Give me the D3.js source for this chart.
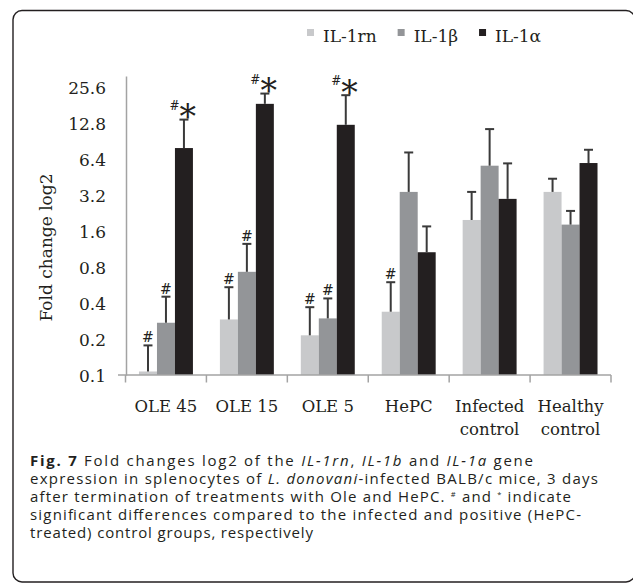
<!DOCTYPE html>
<html>
<head>
<meta charset="utf-8">
<script src="https://cdn.jsdelivr.net/npm/d3@7"></script>
<style>
  html, body { margin: 0; padding: 0; background: #ffffff; }
  svg { display: block; }
</style>
</head>
<body>
<svg id="chart" width="633" height="584"></svg>
<script>
// ---------- data ----------
const categories = ["OLE 45", "OLE 15", "OLE 5", "HePC", "Infected\ncontrol", "Healthy\ncontrol"];
const seriesNames = ["IL-1rn", "IL-1β", "IL-1α"];
const il1rn = [0.107, 0.292, 0.215, 0.339, 1.99, 3.42];
const il1b  = [0.274, 0.732, 0.298, 3.42, 5.67, 1.82];
const il1a  = [7.97, 18.7, 12.48, 1.068, 2.99, 5.97];
const il1rnErr = [0.07, 0.252, 0.155, 0.26, 1.43, 0.99];
const il1bErr  = [0.179, 0.523, 0.14, 3.9, 5.82, 0.55];
const il1aErr  = [5.83, 4.1, 9.62, 0.69, 2.94, 1.74];
const il1rnSig = ["#", "#", "#", "#", "", ""];
const il1bSig  = ["#", "#", "#", "", "", ""];
const il1aSig  = ["#*", "#*", "#*", "", "", ""];
const yTicks = [0.1, 0.2, 0.4, 0.8, 1.6, 3.2, 6.4, 12.8, 25.6];
const seriesColors = ["#c8c9cb", "#939598", "#231f20"];

const seriesValues = [il1rn, il1b, il1a];
const seriesErr = [il1rnErr, il1bErr, il1aErr];
const seriesSig = [il1rnSig, il1bSig, il1aSig];

// ---------- layout ----------
const svg = d3.select("#chart");
const serif = "'DejaVu Serif', serif";
const sans = "'Open Sans', sans-serif";
const ink = "#231f20";
const axisGray = "#a3a3a3";

// frame
svg.append("rect")
  .attr("x", 13).attr("y", 10.5)
  .attr("width", 622).attr("height", 571.5)
  .attr("rx", 9).attr("ry", 9)
  .attr("fill", "none").attr("stroke", ink).attr("stroke-width", 1.4);

const x = d3.scaleBand().domain(categories).range([125.5, 611]).padding(0);
const x1 = d3.scaleBand().domain(seriesNames).range([0, x.bandwidth()])
  .paddingInner(0).paddingOuter(0.75);
const y = d3.scaleLog().base(2).domain([0.1, 32]).range([375, 76]);

// y axis
const yAxis = svg.append("g")
  .attr("transform", "translate(126,0)")
  .call(d3.axisLeft(y).tickValues(yTicks).tickFormat(d => String(d)).tickSize(0).tickPadding(20));
yAxis.select(".domain").attr("stroke", axisGray).attr("stroke-width", 1.5);
yAxis.selectAll(".tick text")
  .attr("font-family", serif).attr("font-size", 17).attr("fill", ink)
  .attr("dy", "0.36em");

// axis title
svg.append("text")
  .attr("transform", "translate(52,247.5) rotate(-90)")
  .attr("text-anchor", "middle")
  .attr("font-family", serif).attr("font-size", 17).attr("fill", ink)
  .text("Fold change log2");

// bars
const groups = svg.append("g").selectAll("g")
  .data(categories)
  .join("g")
  .attr("transform", d => `translate(${x(d)},0)`);

seriesNames.forEach((s, si) => {
  groups.append("rect")
    .attr("x", x1(s))
    .attr("width", x1.bandwidth())
    .attr("y", (d, i) => y(seriesValues[si][i]))
    .attr("height", (d, i) => y(0.1) - y(seriesValues[si][i]))
    .attr("fill", seriesColors[si]);
});

// error bars
const errColor = "#3a3a3a";
seriesNames.forEach((s, si) => {
  const cx = x1(s) + x1.bandwidth() / 2;
  groups.append("line")
    .attr("x1", cx).attr("x2", cx)
    .attr("y1", (d, i) => y(seriesValues[si][i]))
    .attr("y2", (d, i) => y(seriesValues[si][i] + seriesErr[si][i]))
    .attr("stroke", errColor).attr("stroke-width", 2);
  groups.append("line")
    .attr("x1", cx - 4.5).attr("x2", cx + 4.5)
    .attr("y1", (d, i) => y(seriesValues[si][i] + seriesErr[si][i]))
    .attr("y2", (d, i) => y(seriesValues[si][i] + seriesErr[si][i]))
    .attr("stroke", errColor).attr("stroke-width", 2);
});

// significance marks
seriesNames.forEach((s, si) => {
  const cx = x1(s) + x1.bandwidth() / 2;
  groups.each(function(d, i) {
    const mark = seriesSig[si][i];
    if (!mark) return;
    const top = y(seriesValues[si][i] + seriesErr[si][i]);
    const g = d3.select(this);
    if (mark === "#") {
      g.append("text")
        .attr("x", cx).attr("y", top - 3)
        .attr("text-anchor", "middle")
        .attr("font-family", serif).attr("font-size", 14).attr("fill", ink)
        .text("#");
    } else {
      const t = g.append("text")
        .attr("x", cx - 14.5).attr("y", top - 9.7)
        .attr("font-family", serif).attr("fill", ink);
      t.append("tspan").attr("font-size", 12).text("#");
      t.append("tspan").attr("font-size", 33)
        .attr("dy", 18.2)
        .text("*");
    }
  });
});

// x axis
svg.append("line")
  .attr("x1", 118).attr("x2", x.range()[1])
  .attr("y1", 375).attr("y2", 375)
  .attr("stroke", axisGray).attr("stroke-width", 1.5);
const boundaries = categories.map(c => x(c)).concat([x.range()[1]]);
svg.append("g").selectAll("line")
  .data(boundaries)
  .join("line")
  .attr("x1", d => d).attr("x2", d => d)
  .attr("y1", 375).attr("y2", 382.5)
  .attr("stroke", axisGray).attr("stroke-width", 1.5);

// category labels
const catLabels = svg.append("g").selectAll("text")
  .data(categories)
  .join("text")
  .attr("text-anchor", "middle")
  .attr("font-family", serif).attr("font-size", 16.5).attr("fill", ink);
catLabels.each(function(d) {
  const t = d3.select(this);
  d.split("\n").forEach((line, li) => {
    t.append("tspan")
      .attr("x", x(d) + x.bandwidth() / 2)
      .attr("y", 412 + li * 23)
      .text(line);
  });
});

// legend
let lx = 307;
seriesNames.forEach((s, si) => {
  svg.append("rect")
    .attr("x", lx).attr("y", 29)
    .attr("width", 7).attr("height", 7)
    .attr("fill", seriesColors[si]);
  const t = svg.append("text")
    .attr("x", lx + 16).attr("y", 41.7)
    .attr("font-family", serif).attr("font-size", 17).attr("fill", ink)
    .text(s);
  lx = lx + 16 + t.node().getComputedTextLength() + 21;
});

// caption
const captionLines = [
  [["Fig. 7", "b"], [" Fold changes log2 of the ", ""], ["IL-1rn", "i"], [", ", ""], ["IL-1b", "i"], [" and ", ""], ["IL-1a", "i"], [" gene", ""]],
  [["expression in splenocytes of ", ""], ["L. donovani", "i"], ["-infected BALB/c mice, 3 days", ""]],
  [["after termination of treatments with Ole and HePC. ", ""], ["#", "s"], [" and ", ""], ["*", "s"], [" indicate", ""]],
  [["significant differences compared to the infected and positive (HePC-", ""]],
  [["treated) control groups, respectively", ""]]
];
const captionWidths = [503, 568, 541, 551, 283];
captionLines.forEach((parts, li) => {
  const t = svg.append("text")
    .attr("x", 30).attr("y", 465.5 + li * 18.2)
    .attr("font-family", sans).attr("font-size", 15).attr("fill", ink);
  let raised = false;
  parts.forEach(([txt, st]) => {
    const sp = t.append("tspan").text(txt);
    if (st === "b") sp.attr("font-weight", "bold");
    if (st === "i") sp.attr("font-style", "italic");
    if (st === "s") { sp.attr("font-size", 7.5).attr("dy", -4.5); raised = true; }
    else if (raised) { sp.attr("dy", 4.5); raised = false; }
  });
  const w = t.node().getComputedTextLength();
  if (Math.abs(w - captionWidths[li]) > 2) {
    t.attr("textLength", captionWidths[li]).attr("lengthAdjust", "spacing");
  }
});
</script>
</body>
</html>
